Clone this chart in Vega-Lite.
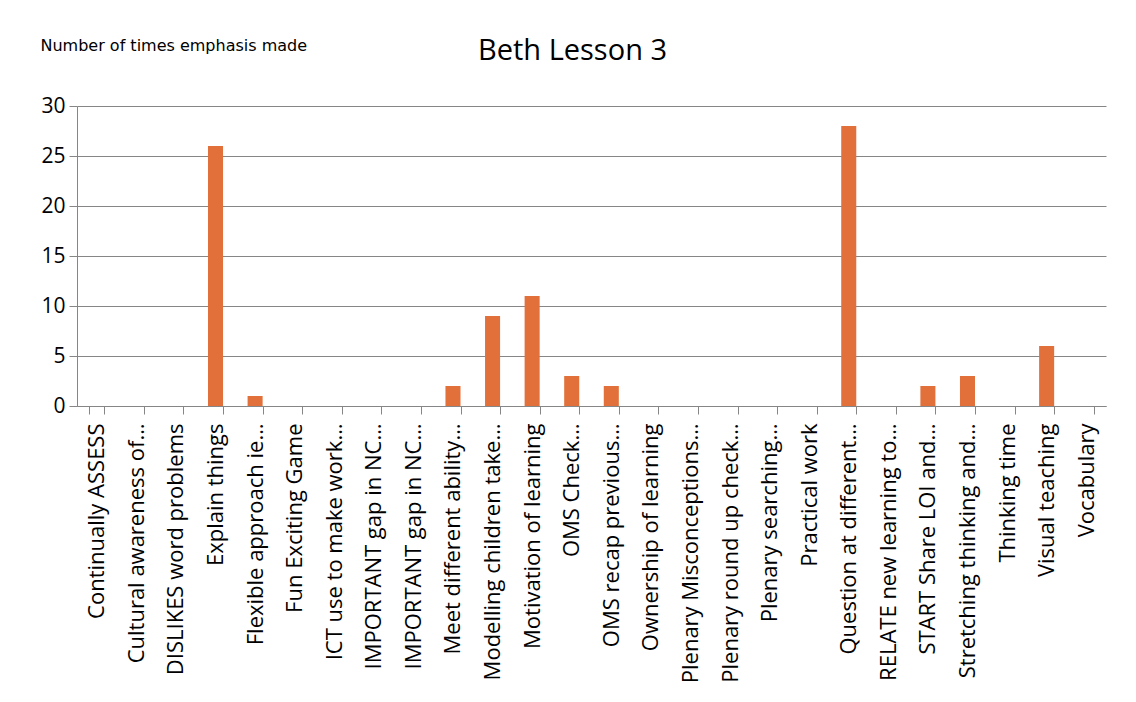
{
  "$schema": "https://vega.github.io/schema/vega-lite/v6.json",
  "autosize": "none",
  "width": 1029,
  "height": 300,
  "padding": {"left": 77, "top": 106, "right": 30, "bottom": 296},
  "background": "white",
  "title": {
    "text": "Beth Lesson 3",
    "font": "Open Sans",
    "fontSize": 29,
    "fontWeight": "normal",
    "color": "#000000",
    "anchor": "middle",
    "frame": "group",
    "dx": -19,
    "baseline": "alphabetic",
    "offset": -52
  },
  "data": {
    "values": [
      {"c": "Continually ASSESS", "v": 0},
      {"c": "Cultural awareness of…", "v": 0},
      {"c": "DISLIKES word problems", "v": 0},
      {"c": "Explain things", "v": 26},
      {"c": "Flexible approach ie…", "v": 1},
      {"c": "Fun Exciting Game", "v": 0},
      {"c": "ICT use to make work…", "v": 0},
      {"c": "IMPORTANT gap in NC…", "v": 0},
      {"c": "IMPORTANT gap in NC… ", "v": 0},
      {"c": "Meet different ability…", "v": 2},
      {"c": "Modelling children take…", "v": 9},
      {"c": "Motivation of learning", "v": 11},
      {"c": "OMS Check…", "v": 3},
      {"c": "OMS recap previous…", "v": 2},
      {"c": "Ownership of learning", "v": 0},
      {"c": "Plenary Misconceptions…", "v": 0},
      {"c": "Plenary round up check…", "v": 0},
      {"c": "Plenary searching…", "v": 0},
      {"c": "Practical work", "v": 0},
      {"c": "Question at different…", "v": 28},
      {"c": "RELATE new learning to…", "v": 0},
      {"c": "START Share LOI and…", "v": 2},
      {"c": "Stretching thinking and…", "v": 3},
      {"c": "Thinking time", "v": 0},
      {"c": "Visual teaching", "v": 6},
      {"c": "Vocabulary", "v": 0}
    ]
  },
  "mark": {"type": "bar", "color": "#E2703A"},
  "encoding": {
    "x": {
      "field": "c",
      "type": "nominal",
      "sort": null,
      "scale": {"paddingInner": 0.62, "paddingOuter": 0.31},
      "axis": {
        "title": null,
        "labelAngle": -90,
        "labelAlign": "right",
        "labelBaseline": "middle",
        "labelFont": "Open Sans",
        "labelFontSize": 22,
        "labelColor": "#000000",
        "labelPadding": 9,
        "labelLimit": 400,
        "tickBand": "extent",
        "tickSize": 8,
        "tickColor": "#868686",
        "domainColor": "#868686",
        "grid": false
      }
    },
    "y": {
      "field": "v",
      "type": "quantitative",
      "scale": {"domain": [0, 30]},
      "axis": {
        "values": [0, 5, 10, 15, 20, 25, 30],
        "title": "Number of times emphasis made",
        "titleAngle": 0,
        "titleX": -37,
        "titleY": -61,
        "titleAlign": "left",
        "titleBaseline": "middle",
        "titleFont": "DejaVu Sans",
        "titleFontSize": 16,
        "titleFontWeight": "normal",
        "titleColor": "#000000",
        "labelFont": "Open Sans",
        "labelFontSize": 21,
        "labelColor": "#000000",
        "labelPadding": 4,
        "tickSize": 8,
        "tickColor": "#868686",
        "domainColor": "#868686",
        "gridColor": "#868686",
        "grid": true
      }
    }
  },
  "config": {"view": {"stroke": null}}
}
